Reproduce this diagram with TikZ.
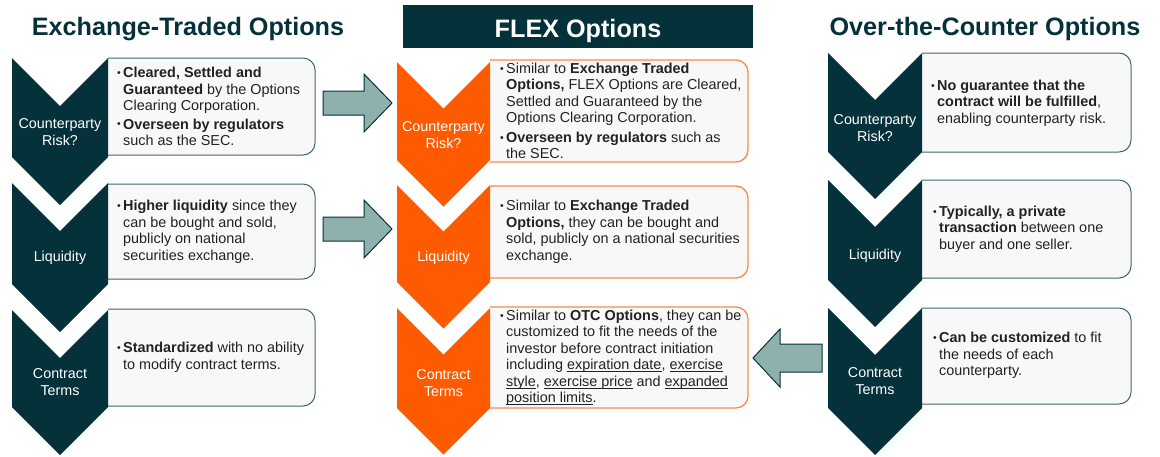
\documentclass[tikz,border=0pt]{standalone}
\usepackage{fontspec}
\setmainfont{Liberation Sans}

\definecolor{tealdark}{HTML}{04313A}
\definecolor{flexorange}{HTML}{FE5A00}
\definecolor{orangeline}{HTML}{F58A52}
\definecolor{boxline}{HTML}{3D6770}
\definecolor{boxfill}{HTML}{F8F8F8}
\definecolor{arrowfill}{HTML}{8FB1AE}
\definecolor{bodytext}{HTML}{222222}

% bullet and hanging indent for the item texts
\newcommand\bul{\makebox[6pt][l]{\fontsize{10.5}{10.5}\selectfont\raisebox{1.2pt}{•}}}
\newcommand\indl{\hspace*{6pt}}
% underline drawn just below the baseline
\newsavebox\ulbox
\newcommand\uln[1]{\sbox\ulbox{#1}\rlap{\rule[-2pt]{\wd\ulbox}{0.8pt}}\usebox\ulbox}

% chevron: style, left x, right x, top y, y where the sides end
\newcommand\chevron[5]{%
  \fill[#1] (#2,#4) -- ({(#2+#3)/2},{#4+(#3-#2)/2}) -- (#3,#4) -- (#3,#5)
    -- ({(#2+#3)/2},{#5+(#3-#2)/2}) -- (#2,#5) -- cycle;}

% text panel with rounded corners on its right side only
\newcommand\sidebox[5]{%
  \begin{scope}
    \clip (#2,#3-3) rectangle (#4+3,#5+3);
    \draw[#1] (#2-20,#3) rectangle (#4,#5);
  \end{scope}}

\begin{document}
\begin{tikzpicture}[x=1pt,y=-1pt,
  title/.style={font=\fontsize{25.2}{28}\selectfont\bfseries, text=tealdark, anchor=base, inner sep=0pt},
  lab/.style={font=\fontsize{14.3}{17}\selectfont, text=white, align=center, inner sep=0pt},
  body/.style={font=\fontsize{14.4}{16.5}\selectfont, text=bodytext, align=left, anchor=west, inner sep=0pt},
  panelD/.style={fill=boxfill, draw=boxline, line width=1pt, rounded corners=12pt},
  panelO/.style={fill=boxfill, draw=orangeline, line width=1.3pt, rounded corners=12pt},
  chevD/.style={fill=tealdark},
  chevO/.style={fill=flexorange},
  blockarrow/.style={fill=arrowfill, draw=tealdark, line width=1pt, line join=miter}]

\useasboundingbox (0,0) rectangle (1160,456);

% ---------- column titles ----------
\node[title] (tEx) at (188,35) {Exchange-Traded Options};
\node[title] (tOtc) at (985,35) {Over-the-Counter Options};
\fill[tealdark] (403,5) rectangle (753,48);
\node[title, text=white, font=\fontsize{25.2}{28}\selectfont\bfseries] (tFlex) at (578,37) {FLEX Options};

% ---------- panels ----------
\sidebox{panelD}{108}{58}{315}{155}
\sidebox{panelD}{108}{184}{315}{279}
\sidebox{panelD}{108}{309}{315}{406}

\sidebox{panelO}{490}{60}{748}{162}
\sidebox{panelO}{490}{186}{748}{278}
\sidebox{panelO}{490}{307}{748}{408}

\sidebox{panelD}{922}{53}{1131}{152}
\sidebox{panelD}{922}{180}{1131}{278}
\sidebox{panelD}{922}{308}{1131}{404}

% ---------- chevrons ----------
\chevron{chevD}{12}{108}{58}{157}
\chevron{chevD}{12}{108}{183}{284}
\chevron{chevD}{12}{108}{310}{407}

\chevron{chevO}{397}{490}{62}{160}
\chevron{chevO}{397}{490}{185}{282}
\chevron{chevO}{397}{490}{308}{408}

\chevron{chevD}{828}{922}{53}{152}
\chevron{chevD}{828}{922}{180}{280}
\chevron{chevD}{828}{922}{308}{408}

% ---------- chevron labels ----------
\node[lab] (lEx1) at (60,132) {Counterparty\\Risk?};
\node[lab] (lEx2) at (60,258) {Liquidity};
\node[lab] (lEx3) at (60,382) {Contract\\Terms};

\node[lab] (lFx1) at (443.5,135) {Counterparty\\Risk?};
\node[lab] (lFx2) at (443.5,258) {Liquidity};
\node[lab] (lFx3) at (443.5,383) {Contract\\Terms};

\node[lab] (lOt1) at (875,128) {Counterparty\\Risk?};
\node[lab] (lOt2) at (875,256) {Liquidity};
\node[lab] (lOt3) at (875,381) {Contract\\Terms};

% ---------- panel texts ----------
\node[body] (bEx1) at (117,106.5) {%
\bul\textbf{Cleared, Settled and}\\
\indl\textbf{Guaranteed} by the Options\\
\indl Clearing Corporation.\\[2pt]
\bul\textbf{Overseen by regulators}\\
\indl such as the SEC.};

\node[body] (bEx2) at (117,232) {%
\bul\textbf{Higher liquidity} since they\\
\indl can be bought and sold,\\
\indl publicly on national\\
\indl securities exchange.};

\node[body] (bEx3) at (117,357.5) {%
\bul\textbf{Standardized} with no ability\\
\indl to modify contract terms.};

\node[body] (bFx1) at (500,111) {%
\bul Similar to \textbf{Exchange Traded}\\
\indl\textbf{Options,} FLEX Options are Cleared,\\
\indl Settled and Guaranteed by the\\
\indl Options Clearing Corporation.\\[3pt]
\bul\textbf{Overseen by regulators} such as\\
\indl the SEC.};

\node[body] (bFx2) at (500,232) {%
\bul Similar to \textbf{Exchange Traded}\\
\indl\textbf{Options,} they can be bought and\\
\indl sold, publicly on a national securities\\
\indl exchange.};

\node[body] (bFx3) at (500,358) {%
\bul Similar to \textbf{OTC Options}, they can be\\
\indl customized to fit the needs of the\\
\indl investor before contract initiation\\
\indl including \uln{expiration date}, \uln{exercise}\\
\indl\uln{style}, \uln{exercise price} and \uln{expanded}\\
\indl\uln{position limits}.};

\node[body] (bOt1) at (931,103) {%
\bul\textbf{No guarantee that the}\\
\indl\textbf{contract will be fulfilled},\\
\indl enabling counterparty risk.};

\node[body] (bOt2) at (933,229) {%
\bul\textbf{Typically, a private}\\
\indl\textbf{transaction} between one\\
\indl buyer and one seller.};

\node[body] (bOt3) at (933,355.5) {%
\bul\textbf{Can be customized} to fit\\
\indl the needs of each\\
\indl counterparty.};

% ---------- block arrows between the columns ----------
\draw[blockarrow] (323,91) -- (364,91) -- (364,74) -- (392,103) -- (364,132) -- (364,115) -- (323,115) -- cycle;
\draw[blockarrow] (323,217) -- (364,217) -- (364,200) -- (392,229) -- (364,258) -- (364,241) -- (323,241) -- cycle;
\draw[blockarrow] (822,344) -- (780,344) -- (780,329) -- (753,358) -- (780,387) -- (780,372) -- (822,372) -- cycle;

\end{tikzpicture}
\end{document}
